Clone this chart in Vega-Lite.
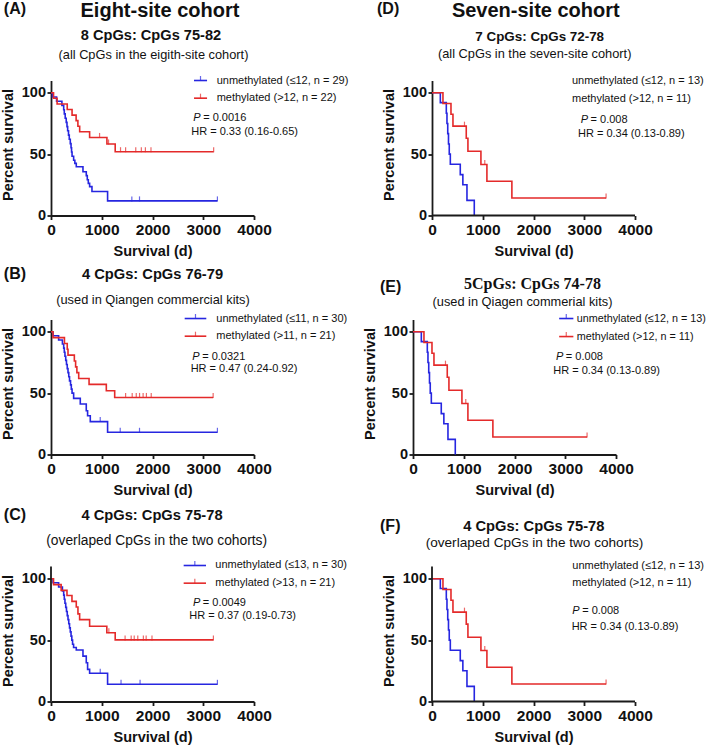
{
"$schema":"https://vega.github.io/schema/vega-lite/v6.json",
"padding":{"left":0,"top":0.5,"right":0,"bottom":2},
"background":"white",
"config":{"view":{"stroke":null},"font":"Liberation Sans",
 "axis":{"domainColor":"#1a1a1a","domainWidth":1.8,"tickColor":"#1a1a1a","tickWidth":1.8,"tickSize":4,"labelColor":"#111","labelFont":"Liberation Sans","labelFontWeight":"bold","titleFont":"Liberation Sans","titleFontWeight":"bold","titleColor":"#111","titleFontSize":14.5,"grid":false,"labelFlush":false,"labelOverlap":false},
 "axisX":{"labelFontSize":15.5,"labelPadding":3,"titlePadding":6.5,"format":"d"},
 "axisY":{"labelFontSize":14.5,"labelPadding":1.5,"titlePadding":5.5,"format":"d"}},
"datasets":{
"A_u":[{"t":0,"s":100},{"t":30,"s":96.6},{"t":110,"s":93.1},{"t":215,"s":89.7},{"t":250,"s":86.2},{"t":262,"s":82.8},{"t":280,"s":79.3},{"t":300,"s":75.9},{"t":315,"s":72.4},{"t":328,"s":69},{"t":345,"s":65.5},{"t":360,"s":62.1},{"t":380,"s":58.6},{"t":395,"s":55.2},{"t":405,"s":51.7},{"t":415,"s":48.3},{"t":446,"s":45},{"t":470,"s":42.5},{"t":498,"s":39.7},{"t":630,"s":35.7},{"t":695,"s":32.5},{"t":715,"s":29.1},{"t":735,"s":26.2},{"t":761,"s":23.5},{"t":807,"s":19.5},{"t":1115,"s":11.9},{"t":3279,"s":11.9}],
"A_uc":[{"t":1593,"s":11.9},{"t":1744,"s":11.9},{"t":3279,"s":11.9}],
"A_m":[{"t":0,"s":100},{"t":50,"s":95.5},{"t":120,"s":90.9},{"t":320,"s":86.4},{"t":415,"s":81.8},{"t":495,"s":77.3},{"t":530,"s":72.7},{"t":565,"s":68.2},{"t":761,"s":63.6},{"t":1102,"s":58.3},{"t":1265,"s":52},{"t":3205,"s":52}],
"A_mc":[{"t":957,"s":63.6},{"t":1134,"s":58.3},{"t":1370,"s":52},{"t":1470,"s":52},{"t":1670,"s":52},{"t":1780,"s":52},{"t":1860,"s":52},{"t":1970,"s":52},{"t":3205,"s":52}],
"B_u":[{"t":0,"s":100},{"t":40,"s":96.7},{"t":150,"s":93.3},{"t":225,"s":90},{"t":250,"s":86.7},{"t":262,"s":83.3},{"t":275,"s":80},{"t":290,"s":76.7},{"t":305,"s":73.3},{"t":320,"s":70},{"t":335,"s":66.7},{"t":350,"s":63.3},{"t":365,"s":60},{"t":385,"s":56.7},{"t":400,"s":53.3},{"t":415,"s":50},{"t":446,"s":45.7},{"t":577,"s":41.1},{"t":695,"s":35.7},{"t":721,"s":31.6},{"t":774,"s":26.8},{"t":1115,"s":18.1},{"t":3279,"s":18.1}],
"B_uc":[{"t":970,"s":26.8},{"t":1364,"s":18.1},{"t":1744,"s":18.1},{"t":3279,"s":18.1}],
"B_m":[{"t":0,"s":100},{"t":40,"s":95.2},{"t":265,"s":90.5},{"t":320,"s":85.7},{"t":335,"s":81},{"t":460,"s":76.2},{"t":485,"s":71.4},{"t":510,"s":66.7},{"t":546,"s":61.9},{"t":750,"s":57.1},{"t":1090,"s":52},{"t":1255,"s":46.5},{"t":3195,"s":46.5}],
"B_mc":[{"t":1470,"s":46.5},{"t":1600,"s":46.5},{"t":1680,"s":46.5},{"t":1745,"s":46.5},{"t":1815,"s":46.5},{"t":1880,"s":46.5},{"t":1975,"s":46.5},{"t":3195,"s":46.5}],
"C_u":[{"t":0,"s":100},{"t":40,"s":96.7},{"t":150,"s":93.3},{"t":225,"s":90},{"t":250,"s":86.7},{"t":262,"s":83.3},{"t":275,"s":80},{"t":290,"s":76.7},{"t":305,"s":73.3},{"t":320,"s":70},{"t":335,"s":66.7},{"t":350,"s":63.3},{"t":365,"s":60},{"t":380,"s":56.7},{"t":395,"s":53.3},{"t":410,"s":50},{"t":425,"s":46.7},{"t":445,"s":44},{"t":498,"s":41.9},{"t":630,"s":37},{"t":695,"s":31.6},{"t":721,"s":26.2},{"t":761,"s":23},{"t":1115,"s":14},{"t":3279,"s":14}],
"C_uc":[{"t":970,"s":23},{"t":1380,"s":14},{"t":1755,"s":14},{"t":3279,"s":14}],
"C_m":[{"t":0,"s":100},{"t":50,"s":95.2},{"t":200,"s":90.5},{"t":315,"s":86.4},{"t":413,"s":81.6},{"t":498,"s":77},{"t":531,"s":71.4},{"t":564,"s":66.7},{"t":761,"s":61.3},{"t":1100,"s":56},{"t":1265,"s":50.2},{"t":3200,"s":50.2}],
"C_mc":[{"t":1140,"s":56},{"t":1460,"s":50.2},{"t":1580,"s":50.2},{"t":1640,"s":50.2},{"t":1710,"s":50.2},{"t":1820,"s":50.2},{"t":1875,"s":50.2},{"t":1990,"s":50.2},{"t":3200,"s":50.2}],
"D_u":[{"t":0,"s":100},{"t":164,"s":92},{"t":282,"s":83.3},{"t":295,"s":75},{"t":310,"s":66.7},{"t":325,"s":58.3},{"t":340,"s":50},{"t":361,"s":41.7},{"t":557,"s":33.3},{"t":608,"s":25},{"t":689,"s":12.3},{"t":833,"s":0}],
"D_m":[{"t":0,"s":100},{"t":216,"s":91.2},{"t":374,"s":82.5},{"t":413,"s":72.8},{"t":675,"s":63},{"t":708,"s":52.3},{"t":964,"s":41.6},{"t":1082,"s":27.9},{"t":1574,"s":14.2},{"t":3430,"s":14.2}],
"D_mc":[{"t":640,"s":72.8},{"t":1040,"s":41.6},{"t":3430,"s":14.2}]
},
"columns":2,
"spacing":{"row":104,"column":159},
"bounds":"flush",
"align":"each",
"concat":[
{"width":203,"height":135,"layer":[
 {"data":{"name":"A_u"},"mark":{"type":"line","interpolate":"step-after","color":"#2626e0","strokeWidth":1.6},"encoding":{"x":{"field":"t","type":"quantitative","scale":{"domain":[0,4000],"nice":false},"axis":{"title":"Survival (d)","values":[0,1000,2000,3000,4000]}},"y":{"field":"s","type":"quantitative","scale":{"domain":[0,110],"nice":false},"axis":{"title":"Percent survival","values":[0,50,100],"titleY":64}}}},
 {"data":{"name":"A_m"},"mark":{"type":"line","interpolate":"step-after","color":"#e42a2a","strokeWidth":1.6},"encoding":{"x":{"field":"t","type":"quantitative"},"y":{"field":"s","type":"quantitative"}}},
 {"data":{"name":"A_uc"},"mark":{"type":"tick","orient":"vertical","size":5,"thickness":1.2,"yOffset":-2,"color":"#2626e0"},"encoding":{"x":{"field":"t","type":"quantitative"},"y":{"field":"s","type":"quantitative"}}},
 {"data":{"name":"A_mc"},"mark":{"type":"tick","orient":"vertical","size":5,"thickness":1.2,"yOffset":-2,"color":"#e42a2a"},"encoding":{"x":{"field":"t","type":"quantitative"},"y":{"field":"s","type":"quantitative"}}},
 {"data":{"values":[{}]},"mark":{"type":"rule","color":"#2626e0","strokeWidth":1.6},"encoding":{"x":{"datum":2818},"x2":{"datum":3075},"y":{"datum":110}}},
 {"data":{"values":[{}]},"mark":{"type":"tick","orient":"vertical","size":5,"thickness":1.2,"yOffset":-2,"color":"#2626e0"},"encoding":{"x":{"datum":2946},"y":{"datum":110}}},
 {"data":{"values":[{}]},"mark":{"type":"rule","color":"#e42a2a","strokeWidth":1.6},"encoding":{"x":{"datum":2818},"x2":{"datum":3075},"y":{"datum":95.6}}},
 {"data":{"values":[{}]},"mark":{"type":"tick","orient":"vertical","size":5,"thickness":1.2,"yOffset":-2,"color":"#e42a2a"},"encoding":{"x":{"datum":2946},"y":{"datum":95.6}}},
 {"data":{"values":[{}]},"mark":{"type":"text","text":"unmethylated (≤12, n = 29)","align":"left","baseline":"middle","fontSize":11,"font":"Liberation Sans","color":"#111"},"encoding":{"x":{"datum":3264},"y":{"datum":110}}},
 {"data":{"values":[{}]},"mark":{"type":"text","text":"methylated (>12, n = 22)","align":"left","baseline":"middle","fontSize":11,"font":"Liberation Sans","color":"#111"},"encoding":{"x":{"datum":3264},"y":{"datum":95.6}}},
 {"data":{"values":[{}]},"mark":{"type":"text","text":"P","align":"left","baseline":"middle","fontSize":11,"fontStyle":"italic","font":"Liberation Sans","color":"#111"},"encoding":{"x":{"datum":2803},"y":{"datum":79.3}}},
 {"data":{"values":[{}]},"mark":{"type":"text","text":"= 0.0016","align":"left","baseline":"middle","fontSize":11,"font":"Liberation Sans","color":"#111"},"encoding":{"x":{"datum":2998},"y":{"datum":79.3}}},
 {"data":{"values":[{}]},"mark":{"type":"text","text":"HR = 0.33 (0.16-0.65)","align":"left","baseline":"middle","fontSize":11,"font":"Liberation Sans","color":"#111"},"encoding":{"x":{"datum":2764},"y":{"datum":68.4}}},
 {"data":{"values":[{}]},"mark":{"type":"text","text":"8 CpGs: CpGs 75-82","align":"center","baseline":"alphabetic","fontSize":14.6,"fontWeight":"bold","font":"Liberation Sans","color":"#111"},"encoding":{"x":{"datum":1970},"y":{"datum":142.8}}},
 {"data":{"values":[{}]},"mark":{"type":"text","text":"(all CpGs in the eigith-site cohort)","align":"center","baseline":"alphabetic","fontSize":12.8,"font":"Liberation Sans","color":"#111"},"encoding":{"x":{"datum":2019},"y":{"datum":127.9}}},
 {"data":{"values":[{}]},"mark":{"type":"text","text":"(A)","align":"left","baseline":"alphabetic","fontSize":16,"fontWeight":"bold","font":"Liberation Sans","color":"#111"},"encoding":{"x":{"datum":-930},"y":{"datum":164.2}}},
 {"data":{"values":[{}]},"mark":{"type":"text","text":"Eight-site cohort","align":"center","baseline":"top","fontSize":20,"fontWeight":"bold","font":"Liberation Sans","color":"#111"},"encoding":{"x":{"datum":2147},"y":{"datum":174.8}}}
]},
{"width":222,"height":135,"layer":[
 {"data":{"name":"D_u"},"mark":{"type":"line","interpolate":"step-after","color":"#2626e0","strokeWidth":1.6},"encoding":{"x":{"field":"t","type":"quantitative","scale":{"domain":[-374.4,4000],"nice":false,"zero":false},"axis":{"title":"Survival (d)","values":[0,1000,2000,3000,4000],"domain":false,"titleX":120.5}},"y":{"field":"s","type":"quantitative","scale":{"domain":[0,110],"nice":false},"axis":{"title":"Percent survival","values":[0,50,100],"titleY":64,"offset":-19}}}},
 {"data":{"name":"D_m"},"mark":{"type":"line","interpolate":"step-after","color":"#e42a2a","strokeWidth":1.6},"encoding":{"x":{"field":"t","type":"quantitative"},"y":{"field":"s","type":"quantitative"}}},
 {"data":{"name":"D_mc"},"mark":{"type":"tick","orient":"vertical","size":5,"thickness":1.2,"yOffset":-2,"color":"#e42a2a"},"encoding":{"x":{"field":"t","type":"quantitative"},"y":{"field":"s","type":"quantitative"}}},
 {"data":{"values":[{}]},"mark":{"type":"rule","color":"#1a1a1a","strokeWidth":1.8},"encoding":{"x":{"datum":0},"x2":{"datum":4000},"y":{"datum":0}}},
 {"data":{"values":[{}]},"mark":{"type":"text","text":"unmethylated (≤12, n = 13)","align":"left","baseline":"middle","fontSize":11,"font":"Liberation Sans","color":"#111"},"encoding":{"x":{"datum":2758},"y":{"datum":109.2}}},
 {"data":{"values":[{}]},"mark":{"type":"text","text":"methylated (>12, n = 11)","align":"left","baseline":"middle","fontSize":11,"font":"Liberation Sans","color":"#111"},"encoding":{"x":{"datum":2758},"y":{"datum":94.8}}},
 {"data":{"values":[{}]},"mark":{"type":"text","text":"P","align":"left","baseline":"middle","fontSize":11,"fontStyle":"italic","font":"Liberation Sans","color":"#111"},"encoding":{"x":{"datum":2930},"y":{"datum":77.7}}},
 {"data":{"values":[{}]},"mark":{"type":"text","text":"= 0.008","align":"left","baseline":"middle","fontSize":11,"font":"Liberation Sans","color":"#111"},"encoding":{"x":{"datum":3125},"y":{"datum":77.7}}},
 {"data":{"values":[{}]},"mark":{"type":"text","text":"HR = 0.34 (0.13-0.89)","align":"left","baseline":"middle","fontSize":11,"font":"Liberation Sans","color":"#111"},"encoding":{"x":{"datum":2876},"y":{"datum":66.8}}},
 {"data":{"values":[{}]},"mark":{"type":"text","text":"7 CpGs: CpGs 72-78","align":"center","baseline":"alphabetic","fontSize":13.4,"fontWeight":"bold","font":"Liberation Sans","color":"#111"},"encoding":{"x":{"datum":2122},"y":{"datum":142}}},
 {"data":{"values":[{}]},"mark":{"type":"text","text":"(all CpGs in the seven-site cohort)","align":"center","baseline":"alphabetic","fontSize":12.8,"font":"Liberation Sans","color":"#111"},"encoding":{"x":{"datum":2023},"y":{"datum":128.2}}},
 {"data":{"values":[{}]},"mark":{"type":"text","text":"(D)","align":"left","baseline":"alphabetic","fontSize":16,"fontWeight":"bold","font":"Liberation Sans","color":"#111"},"encoding":{"x":{"datum":-1083},"y":{"datum":164.2}}},
 {"data":{"values":[{}]},"mark":{"type":"text","text":"Seven-site cohort","align":"center","baseline":"top","fontSize":20,"fontWeight":"bold","font":"Liberation Sans","color":"#111"},"encoding":{"x":{"datum":2045},"y":{"datum":174.8}}}
]},
{"width":203,"height":135,"layer":[
 {"data":{"name":"B_u"},"mark":{"type":"line","interpolate":"step-after","color":"#2626e0","strokeWidth":1.6},"encoding":{"x":{"field":"t","type":"quantitative","scale":{"domain":[0,4000],"nice":false},"axis":{"title":"Survival (d)","values":[0,1000,2000,3000,4000]}},"y":{"field":"s","type":"quantitative","scale":{"domain":[0,110],"nice":false},"axis":{"title":"Percent survival","values":[0,50,100],"titleY":64}}}},
 {"data":{"name":"B_m"},"mark":{"type":"line","interpolate":"step-after","color":"#e42a2a","strokeWidth":1.6},"encoding":{"x":{"field":"t","type":"quantitative"},"y":{"field":"s","type":"quantitative"}}},
 {"data":{"name":"B_uc"},"mark":{"type":"tick","orient":"vertical","size":5,"thickness":1.2,"yOffset":-2,"color":"#2626e0"},"encoding":{"x":{"field":"t","type":"quantitative"},"y":{"field":"s","type":"quantitative"}}},
 {"data":{"name":"B_mc"},"mark":{"type":"tick","orient":"vertical","size":5,"thickness":1.2,"yOffset":-2,"color":"#e42a2a"},"encoding":{"x":{"field":"t","type":"quantitative"},"y":{"field":"s","type":"quantitative"}}},
 {"data":{"values":[{}]},"mark":{"type":"rule","color":"#2626e0","strokeWidth":1.6},"encoding":{"x":{"datum":2634},"x2":{"datum":3060},"y":{"datum":110.8}}},
 {"data":{"values":[{}]},"mark":{"type":"tick","orient":"vertical","size":5,"thickness":1.2,"yOffset":-2,"color":"#2626e0"},"encoding":{"x":{"datum":2847},"y":{"datum":110.8}}},
 {"data":{"values":[{}]},"mark":{"type":"rule","color":"#e42a2a","strokeWidth":1.6},"encoding":{"x":{"datum":2634},"x2":{"datum":3060},"y":{"datum":96.4}}},
 {"data":{"values":[{}]},"mark":{"type":"tick","orient":"vertical","size":5,"thickness":1.2,"yOffset":-2,"color":"#e42a2a"},"encoding":{"x":{"datum":2847},"y":{"datum":96.4}}},
 {"data":{"values":[{}]},"mark":{"type":"text","text":"unmethylated (≤11, n = 30)","align":"left","baseline":"middle","fontSize":11,"font":"Liberation Sans","color":"#111"},"encoding":{"x":{"datum":3257},"y":{"datum":110.8}}},
 {"data":{"values":[{}]},"mark":{"type":"text","text":"methylated (>11, n = 21)","align":"left","baseline":"middle","fontSize":11,"font":"Liberation Sans","color":"#111"},"encoding":{"x":{"datum":3257},"y":{"datum":96.4}}},
 {"data":{"values":[{}]},"mark":{"type":"text","text":"P","align":"left","baseline":"middle","fontSize":11,"fontStyle":"italic","font":"Liberation Sans","color":"#111"},"encoding":{"x":{"datum":2784},"y":{"datum":79.6}}},
 {"data":{"values":[{}]},"mark":{"type":"text","text":"= 0.0321","align":"left","baseline":"middle","fontSize":11,"font":"Liberation Sans","color":"#111"},"encoding":{"x":{"datum":2979},"y":{"datum":79.6}}},
 {"data":{"values":[{}]},"mark":{"type":"text","text":"HR = 0.47 (0.24-0.92)","align":"left","baseline":"middle","fontSize":11,"font":"Liberation Sans","color":"#111"},"encoding":{"x":{"datum":2752},"y":{"datum":69.3}}},
 {"data":{"values":[{}]},"mark":{"type":"text","text":"4 CpGs: CpGs 76-79","align":"center","baseline":"alphabetic","fontSize":14.7,"fontWeight":"bold","font":"Liberation Sans","color":"#111"},"encoding":{"x":{"datum":2000},"y":{"datum":143.2}}},
 {"data":{"values":[{}]},"mark":{"type":"text","text":"(used in Qiangen commercial kits)","align":"center","baseline":"alphabetic","fontSize":12.8,"font":"Liberation Sans","color":"#111"},"encoding":{"x":{"datum":2009},"y":{"datum":123}}},
 {"data":{"values":[{}]},"mark":{"type":"text","text":"(B)","align":"left","baseline":"alphabetic","fontSize":16,"fontWeight":"bold","font":"Liberation Sans","color":"#111"},"encoding":{"x":{"datum":-930},"y":{"datum":143.2}}}
]},
{"width":203,"height":135,"layer":[
 {"data":{"name":"D_u"},"mark":{"type":"line","interpolate":"step-after","color":"#2626e0","strokeWidth":1.6},"encoding":{"x":{"field":"t","type":"quantitative","scale":{"domain":[0,4000],"nice":false},"axis":{"title":"Survival (d)","values":[0,1000,2000,3000,4000]}},"y":{"field":"s","type":"quantitative","scale":{"domain":[0,110],"nice":false},"axis":{"title":"Percent survival","values":[0,50,100],"titleY":64}}}},
 {"data":{"name":"D_m"},"mark":{"type":"line","interpolate":"step-after","color":"#e42a2a","strokeWidth":1.6},"encoding":{"x":{"field":"t","type":"quantitative"},"y":{"field":"s","type":"quantitative"}}},
 {"data":{"name":"D_mc"},"mark":{"type":"tick","orient":"vertical","size":5,"thickness":1.2,"yOffset":-2,"color":"#e42a2a"},"encoding":{"x":{"field":"t","type":"quantitative"},"y":{"field":"s","type":"quantitative"}}},
 {"data":{"values":[{}]},"mark":{"type":"rule","color":"#2626e0","strokeWidth":1.6},"encoding":{"x":{"datum":2880},"x2":{"datum":3160},"y":{"datum":110.8}}},
 {"data":{"values":[{}]},"mark":{"type":"tick","orient":"vertical","size":5,"thickness":1.2,"yOffset":-2,"color":"#2626e0"},"encoding":{"x":{"datum":3020},"y":{"datum":110.8}}},
 {"data":{"values":[{}]},"mark":{"type":"rule","color":"#e42a2a","strokeWidth":1.6},"encoding":{"x":{"datum":2880},"x2":{"datum":3160},"y":{"datum":96.1}}},
 {"data":{"values":[{}]},"mark":{"type":"tick","orient":"vertical","size":5,"thickness":1.2,"yOffset":-2,"color":"#e42a2a"},"encoding":{"x":{"datum":3020},"y":{"datum":96.1}}},
 {"data":{"values":[{}]},"mark":{"type":"text","text":"unmethylated (≤12, n = 13)","align":"left","baseline":"middle","fontSize":10.8,"font":"Liberation Sans","color":"#111"},"encoding":{"x":{"datum":3225},"y":{"datum":110.8}}},
 {"data":{"values":[{}]},"mark":{"type":"text","text":"methylated (>12, n = 11)","align":"left","baseline":"middle","fontSize":10.8,"font":"Liberation Sans","color":"#111"},"encoding":{"x":{"datum":3225},"y":{"datum":96.1}}},
 {"data":{"values":[{}]},"mark":{"type":"text","text":"P","align":"left","baseline":"middle","fontSize":11,"fontStyle":"italic","font":"Liberation Sans","color":"#111"},"encoding":{"x":{"datum":2817},"y":{"datum":79.6}}},
 {"data":{"values":[{}]},"mark":{"type":"text","text":"= 0.008","align":"left","baseline":"middle","fontSize":11,"font":"Liberation Sans","color":"#111"},"encoding":{"x":{"datum":3012},"y":{"datum":79.6}}},
 {"data":{"values":[{}]},"mark":{"type":"text","text":"HR = 0.34 (0.13-0.89)","align":"left","baseline":"middle","fontSize":11,"font":"Liberation Sans","color":"#111"},"encoding":{"x":{"datum":2764},"y":{"datum":68.2}}},
 {"data":{"values":[{}]},"mark":{"type":"text","text":"5CpGs: CpGs 74-78","align":"center","baseline":"alphabetic","fontSize":16,"fontWeight":"bold","font":"Liberation Serif","color":"#111"},"encoding":{"x":{"datum":2354},"y":{"datum":134.8}}},
 {"data":{"values":[{}]},"mark":{"type":"text","text":"(used in Qiagen commerial kits)","align":"center","baseline":"alphabetic","fontSize":12.8,"font":"Liberation Sans","color":"#111"},"encoding":{"x":{"datum":2157},"y":{"datum":120.6}}},
 {"data":{"values":[{}]},"mark":{"type":"text","text":"(E)","align":"left","baseline":"alphabetic","fontSize":16,"fontWeight":"bold","font":"Liberation Sans","color":"#111"},"encoding":{"x":{"datum":-650},"y":{"datum":132.2}}}
]},
{"width":203,"height":143,"layer":[
 {"data":{"name":"C_u"},"mark":{"type":"line","interpolate":"step-after","color":"#2626e0","strokeWidth":1.6},"encoding":{"x":{"field":"t","type":"quantitative","scale":{"domain":[0,4000],"nice":false},"axis":{"title":"Survival (d)","values":[0,1000,2000,3000,4000]}},"y":{"field":"s","type":"quantitative","scale":{"domain":[0,116.5],"nice":false},"axis":{"title":"Percent survival","values":[0,50,100],"titleY":72,"domain":false}}}},
 {"data":{"name":"C_m"},"mark":{"type":"line","interpolate":"step-after","color":"#e42a2a","strokeWidth":1.6},"encoding":{"x":{"field":"t","type":"quantitative"},"y":{"field":"s","type":"quantitative"}}},
 {"data":{"name":"C_uc"},"mark":{"type":"tick","orient":"vertical","size":5,"thickness":1.2,"yOffset":-2,"color":"#2626e0"},"encoding":{"x":{"field":"t","type":"quantitative"},"y":{"field":"s","type":"quantitative"}}},
 {"data":{"name":"C_mc"},"mark":{"type":"tick","orient":"vertical","size":5,"thickness":1.2,"yOffset":-2,"color":"#e42a2a"},"encoding":{"x":{"field":"t","type":"quantitative"},"y":{"field":"s","type":"quantitative"}}},
 {"data":{"values":[{}]},"mark":{"type":"rule","color":"#1a1a1a","strokeWidth":1.8},"encoding":{"x":{"datum":0},"y":{"datum":0},"y2":{"datum":110}}},
 {"data":{"values":[{}]},"mark":{"type":"rule","color":"#2626e0","strokeWidth":1.6},"encoding":{"x":{"datum":2614},"x2":{"datum":3054},"y":{"datum":110.8}}},
 {"data":{"values":[{}]},"mark":{"type":"tick","orient":"vertical","size":5,"thickness":1.2,"yOffset":-2,"color":"#2626e0"},"encoding":{"x":{"datum":2834},"y":{"datum":110.8}}},
 {"data":{"values":[{}]},"mark":{"type":"rule","color":"#e42a2a","strokeWidth":1.6},"encoding":{"x":{"datum":2614},"x2":{"datum":3054},"y":{"datum":96.4}}},
 {"data":{"values":[{}]},"mark":{"type":"tick","orient":"vertical","size":5,"thickness":1.2,"yOffset":-2,"color":"#e42a2a"},"encoding":{"x":{"datum":2834},"y":{"datum":96.4}}},
 {"data":{"values":[{}]},"mark":{"type":"text","text":"unmethylated (≤13, n = 30)","align":"left","baseline":"middle","fontSize":11,"font":"Liberation Sans","color":"#111"},"encoding":{"x":{"datum":3237},"y":{"datum":110.8}}},
 {"data":{"values":[{}]},"mark":{"type":"text","text":"methylated (>13, n = 21)","align":"left","baseline":"middle","fontSize":11,"font":"Liberation Sans","color":"#111"},"encoding":{"x":{"datum":3237},"y":{"datum":96.4}}},
 {"data":{"values":[{}]},"mark":{"type":"text","text":"P","align":"left","baseline":"middle","fontSize":11,"fontStyle":"italic","font":"Liberation Sans","color":"#111"},"encoding":{"x":{"datum":2797},"y":{"datum":80.1}}},
 {"data":{"values":[{}]},"mark":{"type":"text","text":"= 0.0049","align":"left","baseline":"middle","fontSize":11,"font":"Liberation Sans","color":"#111"},"encoding":{"x":{"datum":2992},"y":{"datum":80.1}}},
 {"data":{"values":[{}]},"mark":{"type":"text","text":"HR = 0.37 (0.19-0.73)","align":"left","baseline":"middle","fontSize":11,"font":"Liberation Sans","color":"#111"},"encoding":{"x":{"datum":2725},"y":{"datum":69.5}}},
 {"data":{"values":[{}]},"mark":{"type":"text","text":"4 CpGs: CpGs 75-78","align":"center","baseline":"alphabetic","fontSize":14.7,"fontWeight":"bold","font":"Liberation Sans","color":"#111"},"encoding":{"x":{"datum":1990},"y":{"datum":147.6}}},
 {"data":{"values":[{}]},"mark":{"type":"text","text":"(overlaped CpGs in the two cohorts)","align":"center","baseline":"alphabetic","fontSize":13.8,"font":"Liberation Sans","color":"#111"},"encoding":{"x":{"datum":2082},"y":{"datum":127.9}}},
 {"data":{"values":[{}]},"mark":{"type":"text","text":"(C)","align":"left","baseline":"alphabetic","fontSize":16,"fontWeight":"bold","font":"Liberation Sans","color":"#111"},"encoding":{"x":{"datum":-930},"y":{"datum":147.6}}}
]},
{"width":222,"height":143,"layer":[
 {"data":{"name":"D_u"},"mark":{"type":"line","interpolate":"step-after","color":"#2626e0","strokeWidth":1.6},"encoding":{"x":{"field":"t","type":"quantitative","scale":{"domain":[-374.4,4000],"nice":false,"zero":false},"axis":{"title":"Survival (d)","values":[0,1000,2000,3000,4000],"domain":false,"titleX":120.5}},"y":{"field":"s","type":"quantitative","scale":{"domain":[0,116.5],"nice":false},"axis":{"title":"Percent survival","values":[0,50,100],"titleY":72,"offset":-19,"domain":false}}}},
 {"data":{"name":"D_m"},"mark":{"type":"line","interpolate":"step-after","color":"#e42a2a","strokeWidth":1.6},"encoding":{"x":{"field":"t","type":"quantitative"},"y":{"field":"s","type":"quantitative"}}},
 {"data":{"name":"D_mc"},"mark":{"type":"tick","orient":"vertical","size":5,"thickness":1.2,"yOffset":-2,"color":"#e42a2a"},"encoding":{"x":{"field":"t","type":"quantitative"},"y":{"field":"s","type":"quantitative"}}},
 {"data":{"values":[{}]},"mark":{"type":"rule","color":"#1a1a1a","strokeWidth":1.8},"encoding":{"x":{"datum":0},"y":{"datum":0},"y2":{"datum":110}}},
 {"data":{"values":[{}]},"mark":{"type":"rule","color":"#1a1a1a","strokeWidth":1.8},"encoding":{"x":{"datum":0},"x2":{"datum":4000},"y":{"datum":0}}},
 {"data":{"values":[{}]},"mark":{"type":"text","text":"unmethylated (≤12, n = 13)","align":"left","baseline":"middle","fontSize":11,"font":"Liberation Sans","color":"#111"},"encoding":{"x":{"datum":2764},"y":{"datum":110.6}}},
 {"data":{"values":[{}]},"mark":{"type":"text","text":"methylated (>12, n = 11)","align":"left","baseline":"middle","fontSize":11,"font":"Liberation Sans","color":"#111"},"encoding":{"x":{"datum":2764},"y":{"datum":96.4}}},
 {"data":{"values":[{}]},"mark":{"type":"text","text":"P","align":"left","baseline":"middle","fontSize":11,"fontStyle":"italic","font":"Liberation Sans","color":"#111"},"encoding":{"x":{"datum":2764},"y":{"datum":73.9}}},
 {"data":{"values":[{}]},"mark":{"type":"text","text":"= 0.008","align":"left","baseline":"middle","fontSize":11,"font":"Liberation Sans","color":"#111"},"encoding":{"x":{"datum":2959},"y":{"datum":73.9}}},
 {"data":{"values":[{}]},"mark":{"type":"text","text":"HR = 0.34 (0.13-0.89)","align":"left","baseline":"middle","fontSize":11,"font":"Liberation Sans","color":"#111"},"encoding":{"x":{"datum":2752},"y":{"datum":61.1}}},
 {"data":{"values":[{}]},"mark":{"type":"text","text":"4 CpGs: CpGs 75-78","align":"center","baseline":"alphabetic","fontSize":14.7,"fontWeight":"bold","font":"Liberation Sans","color":"#111"},"encoding":{"x":{"datum":2006},"y":{"datum":138.5}}},
 {"data":{"values":[{}]},"mark":{"type":"text","text":"(overlaped CpGs in the two cohorts)","align":"center","baseline":"alphabetic","fontSize":13.6,"font":"Liberation Sans","color":"#111"},"encoding":{"x":{"datum":2019},"y":{"datum":125.9}}},
 {"data":{"values":[{}]},"mark":{"type":"text","text":"(F)","align":"left","baseline":"alphabetic","fontSize":16,"fontWeight":"bold","font":"Liberation Sans","color":"#111"},"encoding":{"x":{"datum":-1024},"y":{"datum":138.5}}}
]}
]
}
